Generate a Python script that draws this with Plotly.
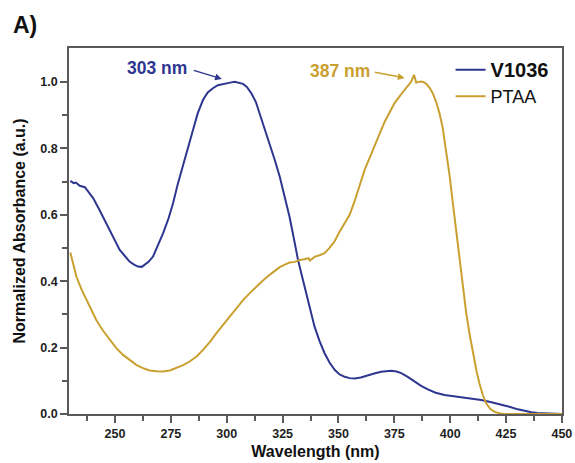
import plotly.graph_objects as go

# V1036 absorbance
v_nm = [230.0, 231.5, 232.5, 234.2, 236.5, 240.2, 243.0, 246.1, 249.0, 252.1, 254.5, 256.5, 258.5,
        260.3, 262.0, 263.2, 265.0, 267.0, 269.0, 271.5, 274.0, 276.0, 278.0, 280.4, 282.5,
        284.9, 287.0, 289.4, 291.5, 293.8, 296.0, 298.3, 301.0, 303.5, 305.5, 307.3, 309.0,
        311.0, 313.0, 314.7, 317.0, 319.2, 321.5, 323.7, 326.0, 328.1, 330.0, 331.9, 333.8,
        335.6, 337.5, 339.3, 341.5, 343.8, 346.0, 348.3, 350.5, 352.8, 355.0, 357.2, 360.0,
        363.2, 366.0, 369.1, 371.5, 373.6, 376.0, 378.1, 381.0, 384.1, 387.0, 390.0, 393.5,
        397.5, 402.0, 406.4, 410.0, 413.9, 418.0, 422.8, 426.5, 430.3, 433.5, 436.3, 439.0,
        442.2, 446.0, 450.0]
v_abs = [0.702, 0.695, 0.697, 0.687, 0.683, 0.650, 0.615, 0.574, 0.535, 0.494, 0.475, 0.459, 0.450,
         0.444, 0.443, 0.449, 0.458, 0.474, 0.505, 0.544, 0.590, 0.635, 0.690, 0.745, 0.800,
         0.855, 0.905, 0.946, 0.968, 0.981, 0.990, 0.994, 0.997, 1.000, 0.998, 0.994, 0.985,
         0.966, 0.940, 0.906, 0.862, 0.815, 0.765, 0.715, 0.655, 0.594, 0.530, 0.464, 0.412,
         0.364, 0.316, 0.263, 0.220, 0.183, 0.155, 0.133, 0.119, 0.112, 0.108, 0.107, 0.110,
         0.117, 0.122, 0.127, 0.129, 0.130, 0.128, 0.123, 0.112, 0.097, 0.085, 0.074, 0.064,
         0.057, 0.053, 0.050, 0.046, 0.042, 0.036, 0.029, 0.022, 0.014, 0.009, 0.005, 0.003,
         0.002, 0.001, 0.000]

# PTAA absorbance
p_nm = [230.0, 231.2, 232.7, 235.0, 237.2, 239.5, 241.6, 244.5, 247.6, 250.5, 253.6, 256.5,
        259.5, 262.5, 265.5, 268.5, 271.5, 274.5, 277.4, 280.5, 283.4, 286.5, 289.4, 292.5,
        295.3, 298.3, 301.3, 304.3, 307.3, 310.3, 313.2, 316.2, 319.2, 321.5, 323.7, 326.0,
        328.1, 330.5, 332.6, 334.8, 336.6, 337.2, 339.3, 341.5, 343.8, 346.0, 348.3, 350.5,
        352.8, 355.0, 357.2, 359.5, 361.7, 364.0, 366.2, 368.5, 370.7, 373.0, 375.1, 377.5,
        379.6, 381.2, 382.6, 383.8, 384.8, 386.0, 387.0, 388.2, 389.3, 390.8, 392.2, 393.7,
        395.2, 396.7, 398.2, 399.7, 401.2, 402.7, 404.2, 405.7, 407.2, 408.7, 410.2, 411.7,
        413.1, 414.6, 416.1, 418.0, 419.8, 422.0, 424.0, 430.0, 440.0, 450.0]
p_abs = [0.486, 0.455, 0.414, 0.375, 0.343, 0.311, 0.283, 0.252, 0.223, 0.199, 0.178, 0.162,
         0.148, 0.138, 0.131, 0.129, 0.128, 0.131, 0.138, 0.147, 0.158, 0.173, 0.193, 0.217,
         0.243, 0.268, 0.293, 0.318, 0.343, 0.364, 0.383, 0.402, 0.419, 0.432, 0.442, 0.450,
         0.456, 0.458, 0.464, 0.466, 0.469, 0.462, 0.473, 0.478, 0.484, 0.500, 0.520, 0.549,
         0.574, 0.600, 0.640, 0.690, 0.735, 0.772, 0.805, 0.845, 0.880, 0.910, 0.936, 0.958,
         0.976, 0.990, 1.001, 1.021, 0.998, 1.000, 1.001, 0.999, 0.994, 0.982, 0.966, 0.940,
         0.906, 0.860, 0.795, 0.720, 0.635, 0.550, 0.464, 0.380, 0.303, 0.240, 0.183, 0.132,
         0.092, 0.058, 0.032, 0.015, 0.007, 0.002, 0.000, 0.000, 0.000, 0.000]

x_ticks = [250, 275, 300, 325, 350, 375, 400, 425, 450]
x_minor = [237.5, 262.5, 287.5, 312.5, 337.5, 362.5, 387.5, 412.5, 437.5]
y_ticks = [0.0, 0.2, 0.4, 0.6, 0.8, 1.0]
y_minor = [0.1, 0.3, 0.5, 0.7, 0.9]

navy = "#2E3690"
gold = "#C9A030"
axis_col = "#5A5A5A"
FONT = "Liberation Sans, Arial, sans-serif"

fig = go.Figure()
fig.add_trace(go.Scatter(x=v_nm, y=v_abs, mode="lines",
                         name="<span style='font-size:20px'><b>V1036</b></span>",
                         line=dict(color=navy, width=2)))
fig.add_trace(go.Scatter(x=p_nm, y=p_abs, mode="lines", name="PTAA",
                         line=dict(color=gold, width=2)))

fig.update_layout(
    width=575, height=463,
    margin=dict(l=69, r=13, t=48, b=49),
    paper_bgcolor="white", plot_bgcolor="white",
    font=dict(family=FONT, color="#222222"),
    showlegend=True,
    legend=dict(x=0.774, y=0.99, xanchor="left", yanchor="top",
                bgcolor="rgba(0,0,0,0)", font=dict(size=18, color="#111111"),
                tracegroupgap=0, itemwidth=30),
)

fig.update_xaxes(
    range=[229.4, 450.05], tickmode="array", tickvals=x_ticks, automargin=False,
    ticks="outside", ticklen=7, tickwidth=1.5, tickcolor=axis_col,
    showline=True, linecolor=axis_col, linewidth=1.5, mirror=True,
    showgrid=False, zeroline=False,
    tickfont=dict(size=12.5, family=FONT, color="#1E1E1E", weight="bold"),
    minor=dict(tickvals=x_minor, ticks="outside", ticklen=5, tickwidth=1.5, tickcolor=axis_col),
    title=dict(text="<b>Wavelength (nm)</b>", font=dict(size=16, family=FONT, color="#111111"),
               standoff=6),
)
fig.update_yaxes(
    range=[0, 1.102], tickmode="array", tickvals=y_ticks, tickformat=".1f", automargin=False,
    ticks="outside", ticklen=7, tickwidth=1.5, tickcolor=axis_col,
    showline=True, linecolor=axis_col, linewidth=1.5, mirror=True,
    showgrid=False, zeroline=False,
    tickfont=dict(size=12.5, family=FONT, color="#1E1E1E", weight="bold"),
    minor=dict(tickvals=y_minor, ticks="outside", ticklen=5, tickwidth=1.5, tickcolor=axis_col),
    title=dict(text="<b>Normalized Absorbance (a.u.)</b>", font=dict(size=16, family=FONT, color="#111111"),
               standoff=11),
)

# Panel label
fig.add_annotation(text="<b>A)</b>", xref="paper", yref="paper", x=-0.118, y=1.063,
                   xanchor="left", yanchor="middle", showarrow=False,
                   font=dict(size=23, family=FONT, color="#111111"))

# Peak labels
fig.add_annotation(text="<b>303 nm</b>", x=283.0, y=1.042, xref="x", yref="y",
                   xanchor="right", yanchor="middle", showarrow=False,
                   font=dict(size=17.5, family=FONT, color=navy))
fig.add_annotation(text="", x=297.8, y=1.009, ax=284.6, ay=1.036, xref="x", yref="y",
                   axref="x", ayref="y", showarrow=True, arrowhead=2, arrowsize=0.9,
                   arrowwidth=1.5, arrowcolor=navy)
fig.add_annotation(text="<b>387 nm</b>", x=364.9, y=1.033, xref="x", yref="y",
                   xanchor="right", yanchor="middle", showarrow=False,
                   font=dict(size=17.5, family=FONT, color=gold))
fig.add_annotation(text="", x=379.6, y=1.012, ax=365.6, ay=1.030, xref="x", yref="y",
                   axref="x", ayref="y", showarrow=True, arrowhead=2, arrowsize=0.9,
                   arrowwidth=1.5, arrowcolor=gold)

fig.write_html("out.html")
